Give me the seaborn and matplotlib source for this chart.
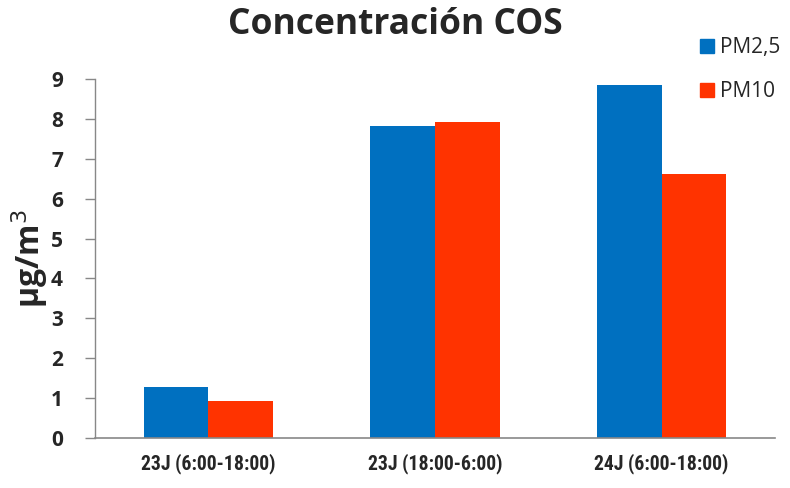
import matplotlib
matplotlib.use("Agg")
import matplotlib.pyplot as plt
import seaborn as sns
import pandas as pd
from matplotlib.lines import Line2D

categories = ["23J (6:00-18:00)", "23J (18:00-6:00)", "24J (6:00-18:00)"]
pm25 = [1.27, 7.82, 8.86]
pm10 = [0.92, 7.93, 6.63]
series = ["PM2,5", "PM10"]
colors = ["#0070C0", "#FF3300"]

df = pd.DataFrame({
    "cat": categories * 2,
    "val": pm25 + pm10,
    "serie": [series[0]] * 3 + [series[1]] * 3,
})

sns.set_style("white")
plt.rcParams['font.family'] = ['Open Sans', 'DejaVu Sans']

fig = plt.figure(figsize=(7.9, 4.88), dpi=100)
ax = fig.add_axes([95/790, 1-437.7/488, (775-95)/790, (437.7-79.3)/488])
sns.barplot(data=df, x="cat", y="val", hue="serie", palette=colors,
            width=0.57, ax=ax, legend=False, saturation=1, linewidth=0)

ax.set_ylim(0, 9)
ax.set_xlim(-0.5, 2.5)
ax.set_yticks(range(0, 10))
ax.set_yticklabels([str(i) for i in range(10)], fontsize=15, fontweight='bold')
ax.tick_params(axis='y', length=7, color='#888888', width=1, pad=16, left=True, direction='out')
ax.tick_params(axis='x', length=0, pad=11)
for lbl in ax.get_xticklabels():
    lbl.set_fontsize(14.2)
    lbl.set_fontweight('bold')
    lbl.set_fontfamily(['Roboto Condensed', 'Roboto', 'DejaVu Sans'])
for s in ['top', 'right']:
    ax.spines[s].set_visible(False)
ax.spines['left'].set_color('#888888')
ax.spines['bottom'].set_color('#888888')
ax.spines['left'].set_linewidth(1)
ax.spines['bottom'].set_linewidth(1.2)
ax.set_xlabel("")
ax.set_ylabel("µg/m$^3$", fontsize=23, fontweight='bold', labelpad=1)

fig.text(0.5, 0.948, "Concentración COS", ha='center', va='center', fontsize=25.5, fontweight='bold')

handles = [Line2D([0], [0], marker='s', linestyle='', markersize=9.5, color=c) for c in colors]
fig.legend(handles, series, loc='upper left', bbox_to_anchor=(697/790, 1-37/488),
           frameon=False, fontsize=15, handletextpad=0.1, labelspacing=1.12,
           handlelength=1, borderpad=0, borderaxespad=0)

fig.savefig("out.png", dpi=100)
